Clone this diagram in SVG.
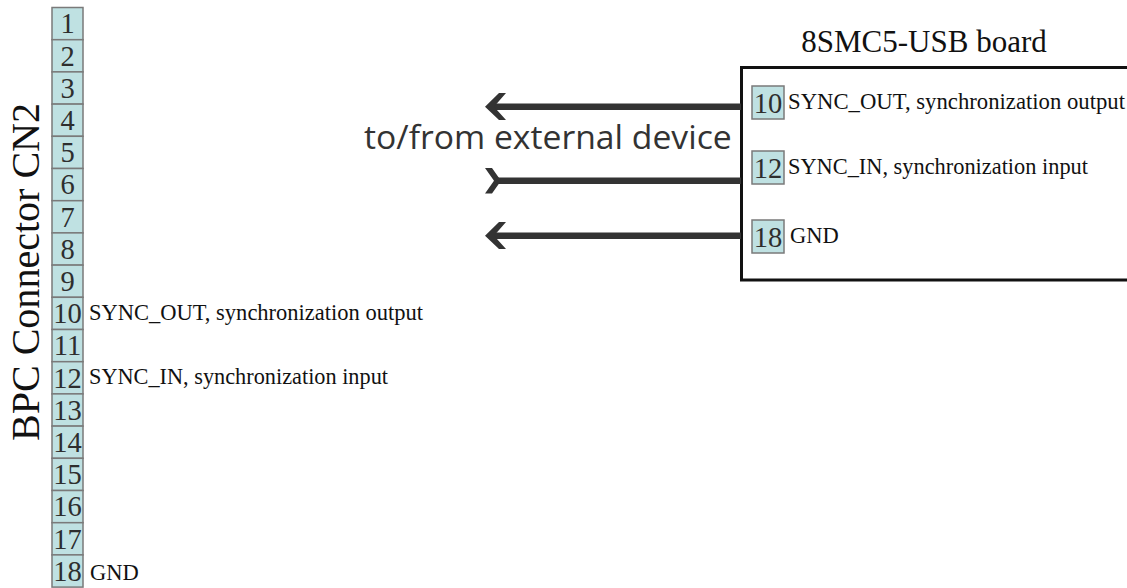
<svg xmlns="http://www.w3.org/2000/svg" width="1127" height="588" viewBox="0 0 1127 588">
<style>
.cell{fill:#bfe1e2;stroke:#7a7a7a;stroke-width:1.5}
.num{font-family:"Liberation Serif",serif;font-size:28.5px;fill:#2e2e2e;text-anchor:middle}
.lbl{font-family:"Liberation Serif",serif;font-size:22.5px;fill:#111}
.wire{stroke:#333;stroke-width:6.5;fill:none}
.head{fill:#333}
</style>
<rect width="1127" height="588" fill="#fff"/>
<g id="bpc-connector">
<text transform="translate(39,272) rotate(-90)" font-family="'Liberation Serif',serif" font-size="40" fill="#111" text-anchor="middle" textLength="338" lengthAdjust="spacingAndGlyphs">BPC Connector CN2</text>
<rect class="cell" x="52" y="7.5" width="31" height="32.2"/><text class="num" x="67.5" y="33.3">1</text>
<rect class="cell" x="52" y="39.7" width="31" height="32.2"/><text class="num" x="67.5" y="65.5">2</text>
<rect class="cell" x="52" y="71.9" width="31" height="32.2"/><text class="num" x="67.5" y="97.7">3</text>
<rect class="cell" x="52" y="104.1" width="31" height="32.2"/><text class="num" x="67.5" y="129.9">4</text>
<rect class="cell" x="52" y="136.3" width="31" height="32.2"/><text class="num" x="67.5" y="162.1">5</text>
<rect class="cell" x="52" y="168.5" width="31" height="32.2"/><text class="num" x="67.5" y="194.3">6</text>
<rect class="cell" x="52" y="200.7" width="31" height="32.2"/><text class="num" x="67.5" y="226.5">7</text>
<rect class="cell" x="52" y="232.9" width="31" height="32.2"/><text class="num" x="67.5" y="258.7">8</text>
<rect class="cell" x="52" y="265.1" width="31" height="32.2"/><text class="num" x="67.5" y="290.9">9</text>
<rect class="cell" x="52" y="297.3" width="31" height="32.2"/><text class="num" x="67.5" y="323.1">10</text>
<rect class="cell" x="52" y="329.5" width="31" height="32.2"/><text class="num" x="67.5" y="355.3">11</text>
<rect class="cell" x="52" y="361.7" width="31" height="32.2"/><text class="num" x="67.5" y="387.5">12</text>
<rect class="cell" x="52" y="393.9" width="31" height="32.2"/><text class="num" x="67.5" y="419.7">13</text>
<rect class="cell" x="52" y="426.1" width="31" height="32.2"/><text class="num" x="67.5" y="451.9">14</text>
<rect class="cell" x="52" y="458.3" width="31" height="32.2"/><text class="num" x="67.5" y="484.1">15</text>
<rect class="cell" x="52" y="490.5" width="31" height="32.2"/><text class="num" x="67.5" y="516.3">16</text>
<rect class="cell" x="52" y="522.7" width="31" height="32.2"/><text class="num" x="67.5" y="548.5">17</text>
<rect class="cell" x="52" y="554.9" width="31" height="32.2"/><text class="num" x="67.5" y="580.7">18</text>
<text class="lbl" x="89" y="320" textLength="334" lengthAdjust="spacingAndGlyphs">SYNC_OUT, synchronization output</text>
<text class="lbl" x="89" y="384" textLength="299" lengthAdjust="spacingAndGlyphs">SYNC_IN, synchronization input</text>
<text class="lbl" x="90" y="580">GND</text>
</g>
<g id="board">
<text x="924" y="52" font-family="'Liberation Serif',serif" font-size="31" fill="#111" text-anchor="middle">8SMC5-USB board</text>
<rect x="741.5" y="67.5" width="400" height="212.5" fill="#fff" stroke="#111" stroke-width="3"/>
<rect class="cell" x="752" y="86" width="32" height="33"/><text class="num" x="768" y="112.5">10</text>
<rect class="cell" x="752" y="151" width="32" height="33"/><text class="num" x="768" y="177.5">12</text>
<rect class="cell" x="752" y="220" width="32" height="33"/><text class="num" x="768" y="246.5">18</text>
<text class="lbl" x="788" y="109" textLength="337" lengthAdjust="spacingAndGlyphs">SYNC_OUT, synchronization output</text>
<text class="lbl" x="788" y="174" textLength="300" lengthAdjust="spacingAndGlyphs">SYNC_IN, synchronization input</text>
<text class="lbl" x="790" y="243">GND</text>
</g>
<g id="external-label">
<text x="364" y="149" font-family="'Open Sans',sans-serif" font-size="33.7" fill="#333">to/from external device</text>
</g>
<g id="connectors">
<line class="wire" x1="493" y1="106.7" x2="741" y2="106.7"/>
<polygon class="head" points="499,93 485,106.7 499,120 506,120 494,106.7 506,93"/>
<line class="wire" x1="494" y1="180.7" x2="741" y2="180.7"/>
<polygon class="head" points="485,168 492,168 501,180.7 492,193.5 485,193.5 494,180.7"/>
<line class="wire" x1="493" y1="235.7" x2="741" y2="235.7"/>
<polygon class="head" points="499,222 485,235.7 499,249 506,249 494,235.7 506,222"/>
</g>
</svg>
